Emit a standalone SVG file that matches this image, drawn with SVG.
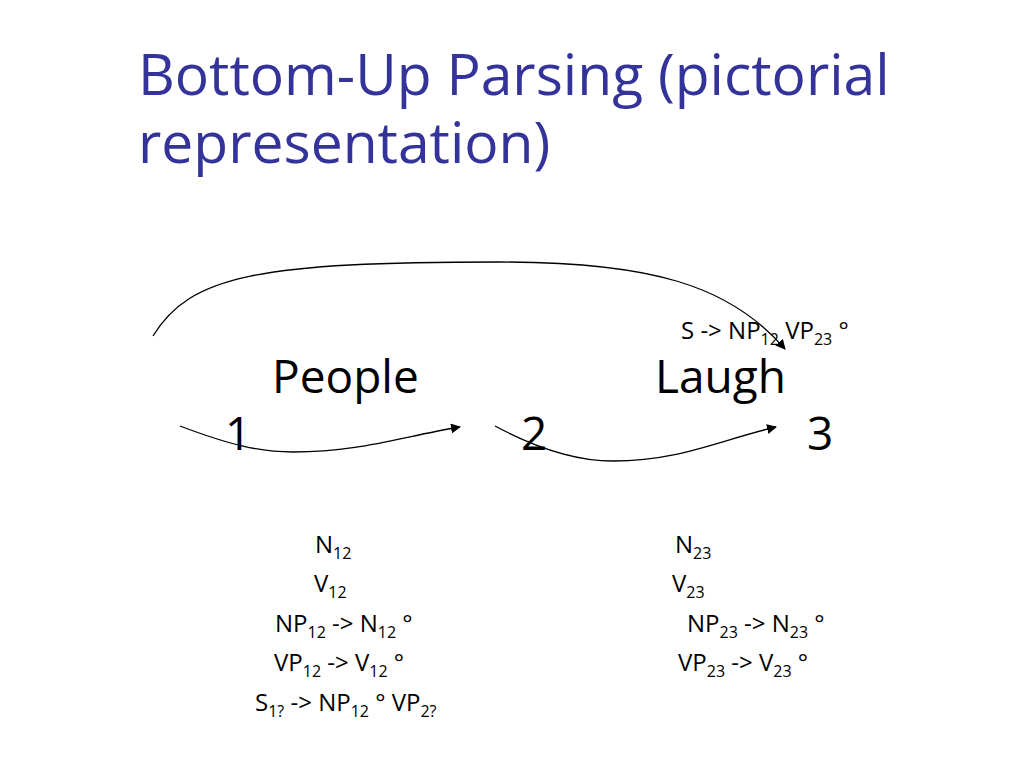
<svg xmlns="http://www.w3.org/2000/svg" width="1024" height="768" viewBox="0 0 1024 768">
<style>
text{font-family:"Open Sans","Noto Sans","DejaVu Sans",sans-serif;fill:#000}
.title{font-size:57px;fill:#333399}
.word{font-size:46px}
.lab{font-size:24px}
.sub{font-size:16px}
.conn{fill:none;stroke:#000;stroke-width:1.3}
</style>
<defs>
<marker id="ah" viewBox="0 0 10 10" refX="9" refY="5" markerWidth="10" markerHeight="10" markerUnits="userSpaceOnUse" orient="auto">
<path d="M0,0 L10,5 L0,10 z" fill="#000"/>
</marker>
</defs>
<rect width="1024" height="768" fill="#fff"/>
<g id="title">
<text class="title" x="138" y="95">Bottom-Up Parsing (pictorial</text>
<text class="title" x="138" y="163">representation)</text>
</g>
<g id="connectors">
<path class="conn" marker-end="url(#ah)" d="M153,336 C190,275 260,262 500,262 C650,262 730,285 785,349"/>
<path class="conn" marker-end="url(#ah)" d="M180,426 C230,445 260,452 293,452 C360,452 400,437 460,427"/>
<path class="conn" marker-end="url(#ah)" d="M495,426 C540,450 580,461 613,461 C680,461 720,440 776,427"/>
</g>
<g id="node-people"><text class="word" x="272" y="393">People</text></g>
<g id="node-laugh"><text class="word" x="655" y="393">Laugh</text></g>
<g id="node-1"><text class="word" x="225" y="450">1</text></g>
<g id="node-2"><text class="word" x="521" y="450">2</text></g>
<g id="node-3"><text class="word" x="807" y="450">3</text></g>
<g id="label-s"><text class="lab" x="681" y="339">S -&gt; NP<tspan class="sub" dy="6">12</tspan><tspan dy="-6"> VP</tspan><tspan class="sub" dy="6">23</tspan><tspan dy="-6"> °</tspan></text></g>
<g id="labels-12">
<text class="lab" x="315" y="553">N<tspan class="sub" dy="6">12</tspan></text>
<text class="lab" x="314" y="592">V<tspan class="sub" dy="6">12</tspan></text>
<text class="lab" x="275" y="632">NP<tspan class="sub" dy="6">12</tspan><tspan dy="-6"> -&gt; N</tspan><tspan class="sub" dy="6">12</tspan><tspan dy="-6"> °</tspan></text>
<text class="lab" x="274" y="671">VP<tspan class="sub" dy="6">12</tspan><tspan dy="-6"> -&gt; V</tspan><tspan class="sub" dy="6">12</tspan><tspan dy="-6"> °</tspan></text>
<text class="lab" x="255" y="711">S<tspan class="sub" dy="6">1?</tspan><tspan dy="-6"> -&gt; NP</tspan><tspan class="sub" dy="6">12</tspan><tspan dy="-6"> ° VP</tspan><tspan class="sub" dy="6">2?</tspan></text>
</g>
<g id="labels-23">
<text class="lab" x="675" y="553">N<tspan class="sub" dy="6">23</tspan></text>
<text class="lab" x="672" y="592">V<tspan class="sub" dy="6">23</tspan></text>
<text class="lab" x="687" y="632">NP<tspan class="sub" dy="6">23</tspan><tspan dy="-6"> -&gt; N</tspan><tspan class="sub" dy="6">23</tspan><tspan dy="-6"> °</tspan></text>
<text class="lab" x="678" y="671">VP<tspan class="sub" dy="6">23</tspan><tspan dy="-6"> -&gt; V</tspan><tspan class="sub" dy="6">23</tspan><tspan dy="-6"> °</tspan></text>
</g>
</svg>
